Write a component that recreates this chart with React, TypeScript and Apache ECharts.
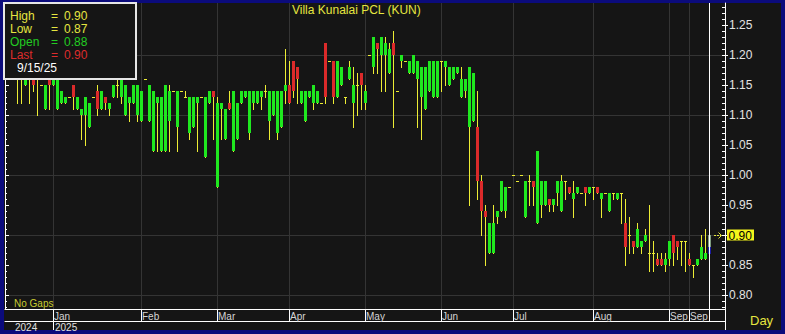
import React, { useEffect, useRef } from 'react';
import * as echarts from 'echarts';

const TITLE = 'Villa Kunalai PCL (KUN)';
const LAST_DATE = '9/15/25';

// OHLC per trading day (Dec 2024 .. 15 Sep 2025)
const opens = [
  1.17, 1.16, 1.15, 1.17, 1.16, 1.17, 1.15, 1.11, 1.16, 1.15,
  1.11, 1.12, 1.12, 1.13, 1.15, 1.11, 1.10, 1.10, 1.08, 1.13,
  1.14, 1.11, 1.13, 1.11, 1.13, 1.15, 1.13, 1.10, 1.12, 1.12,
  1.10, 1.09, 1.16, 1.09, 1.04, 1.12, 1.04, 1.04, 1.09, 1.14,
  1.08, 1.14, 1.13, 1.07, 1.08, 1.12, 1.13, 1.03, 1.12, 1.14,
  0.98, 1.11, 1.06, 1.12, 1.04, 1.06, 1.12, 1.13, 1.07, 1.12,
  1.12, 1.13, 1.14, 1.09, 1.10, 1.07, 1.08, 1.14, 1.15, 1.19,
  1.18, 1.12, 1.09, 1.13, 1.12, 1.12, 1.12, 1.22, 1.19, 1.19,
  1.13, 1.15, 1.13, 1.16, 1.12, 1.15, 1.17, 1.12, 1.20, 1.18,
  1.22, 1.20, 1.20, 1.17, 1.22, 1.14, 1.19, 1.19, 1.17, 1.17,
  1.16, 1.13, 1.11, 1.14, 1.13, 1.13, 1.19, 1.18, 1.15, 1.16,
  1.17, 1.13, 1.14, 1.08, 1.09, 1.08, 0.99, 0.94, 0.87, 0.87,
  0.93, 0.94, 0.94, 0.98, 1.00, 0.99, 1.00, 0.93, 0.99, 0.99,
  0.92, 0.95, 0.95, 0.96, 0.95, 0.97, 0.94, 0.99, 0.98, 0.96,
  0.97, 0.97, 0.98, 0.97, 0.98, 0.98, 0.96, 0.97, 0.94, 0.97,
  0.96, 0.97, 0.92, 0.90, 0.89, 0.88, 0.88, 0.89, 0.87, 0.87,
  0.86, 0.86, 0.85, 0.86, 0.90, 0.89, 0.89, 0.89, 0.86, 0.85,
  0.85, 0.86, 0.86, 0.88,
];
const closes = [
  1.17, 1.17, 1.16, 1.16, 1.15, 1.17, 1.15, 1.15, 1.15, 1.16,
  1.16, 1.14, 1.13, 1.13, 1.13, 1.13, 1.11, 1.13, 1.12, 1.13,
  1.11, 1.14, 1.12, 1.12, 1.15, 1.15, 1.16, 1.15, 1.13, 1.15,
  1.15, 1.14, 1.16, 1.15, 1.14, 1.13, 1.13, 1.15, 1.14, 1.14,
  1.14, 1.14, 1.13, 1.13, 1.13, 1.13, 1.13, 1.13, 1.14, 1.13,
  1.12, 1.12, 1.11, 1.11, 1.14, 1.12, 1.14, 1.14, 1.14, 1.14,
  1.14, 1.14, 1.14, 1.14, 1.14, 1.14, 1.14, 1.15, 1.12, 1.14,
  1.16, 1.14, 1.14, 1.14, 1.15, 1.14, 1.12, 1.13, 1.19, 1.13,
  1.19, 1.18, 1.13, 1.18, 1.15, 1.15, 1.15, 1.14, 1.20, 1.23,
  1.21, 1.23, 1.22, 1.21, 1.20, 1.14, 1.20, 1.19, 1.19, 1.20,
  1.19, 1.18, 1.18, 1.19, 1.19, 1.19, 1.19, 1.19, 1.18, 1.18,
  1.18, 1.16, 1.16, 1.18, 1.17, 0.99, 0.94, 0.93, 0.92, 0.92,
  0.94, 0.99, 0.98, 0.98, 1.00, 0.99, 1.00, 0.99, 0.99, 0.98,
  1.04, 0.99, 0.99, 0.95, 0.96, 0.99, 0.99, 0.99, 0.97, 0.97,
  0.98, 0.97, 0.97, 0.98, 0.98, 0.97, 0.97, 0.97, 0.97, 0.97,
  0.97, 0.97, 0.88, 0.90, 0.88, 0.91, 0.89, 0.90, 0.87, 0.87,
  0.85, 0.85, 0.86, 0.89, 0.87, 0.88, 0.89, 0.89, 0.85, 0.85,
  0.86, 0.88, 0.87, 0.90,
];
const lows = [
  1.12, 1.12, 1.15, 1.12, 1.14, 1.10, 1.15, 1.11, 1.11, 1.15,
  1.11, 1.12, 1.12, 1.13, 1.11, 1.11, 1.06, 1.05, 1.08, 1.13,
  1.10, 1.11, 1.11, 1.10, 1.13, 1.13, 1.12, 1.10, 1.09, 1.12,
  1.09, 1.09, 1.16, 1.09, 1.04, 1.04, 1.04, 1.04, 1.04, 1.14,
  1.04, 1.14, 1.13, 1.06, 1.08, 1.04, 1.13, 1.03, 1.12, 1.06,
  0.98, 1.06, 1.06, 1.11, 1.04, 1.06, 1.12, 1.13, 1.06, 1.11,
  1.12, 1.11, 1.13, 1.06, 1.10, 1.06, 1.08, 1.12, 1.12, 1.13,
  1.12, 1.12, 1.09, 1.13, 1.11, 1.12, 1.12, 1.12, 1.19, 1.12,
  1.13, 1.15, 1.12, 1.16, 1.08, 1.10, 1.11, 1.11, 1.20, 1.17,
  1.17, 1.14, 1.14, 1.17, 1.08, 1.14, 1.18, 1.19, 1.17, 1.17,
  1.08, 1.06, 1.11, 1.14, 1.13, 1.13, 1.14, 1.15, 1.15, 1.16,
  1.17, 1.13, 1.13, 0.95, 1.09, 0.96, 0.90, 0.85, 0.87, 0.87,
  0.92, 0.94, 0.93, 0.98, 1.00, 0.99, 1.00, 0.93, 0.95, 0.95,
  0.92, 0.93, 0.95, 0.94, 0.94, 0.95, 0.94, 0.96, 0.97, 0.93,
  0.97, 0.97, 0.95, 0.97, 0.96, 0.97, 0.93, 0.97, 0.94, 0.96,
  0.96, 0.92, 0.85, 0.87, 0.87, 0.88, 0.87, 0.89, 0.84, 0.84,
  0.85, 0.85, 0.84, 0.85, 0.85, 0.86, 0.85, 0.84, 0.85, 0.83,
  0.85, 0.86, 0.86, 0.87,
];
const highs = [
  1.18, 1.18, 1.17, 1.18, 1.17, 1.18, 1.15, 1.15, 1.17, 1.17,
  1.16, 1.14, 1.13, 1.13, 1.15, 1.13, 1.11, 1.13, 1.12, 1.13,
  1.15, 1.14, 1.13, 1.12, 1.15, 1.16, 1.16, 1.15, 1.13, 1.15,
  1.15, 1.14, 1.16, 1.15, 1.14, 1.13, 1.13, 1.15, 1.15, 1.14,
  1.14, 1.14, 1.14, 1.13, 1.13, 1.13, 1.13, 1.13, 1.14, 1.14,
  1.13, 1.12, 1.11, 1.14, 1.14, 1.12, 1.14, 1.14, 1.14, 1.14,
  1.14, 1.14, 1.15, 1.14, 1.14, 1.14, 1.14, 1.21, 1.19, 1.19,
  1.18, 1.14, 1.14, 1.14, 1.15, 1.14, 1.12, 1.22, 1.19, 1.19,
  1.19, 1.18, 1.13, 1.19, 1.18, 1.17, 1.17, 1.15, 1.20, 1.23,
  1.22, 1.23, 1.23, 1.22, 1.24, 1.14, 1.20, 1.19, 1.19, 1.20,
  1.19, 1.18, 1.18, 1.19, 1.19, 1.19, 1.19, 1.19, 1.18, 1.18,
  1.18, 1.18, 1.16, 1.18, 1.17, 1.14, 1.00, 0.95, 0.92, 0.95,
  0.94, 0.99, 0.98, 0.98, 1.00, 0.99, 1.00, 0.99, 1.00, 0.99,
  1.04, 0.99, 0.99, 0.96, 0.96, 0.99, 1.00, 0.99, 0.98, 0.99,
  0.98, 0.97, 0.98, 0.98, 0.98, 0.98, 0.97, 0.97, 0.97, 0.97,
  0.97, 0.97, 0.96, 0.93, 0.89, 0.92, 0.89, 0.91, 0.95, 0.89,
  0.87, 0.87, 0.87, 0.89, 0.90, 0.89, 0.89, 0.89, 0.87, 0.85,
  0.86, 0.90, 0.91, 0.90,
];

// x axis labels (bar index where each label starts)
const monthLabels = ['Jan', 'Feb', 'Mar', 'Apr', 'May', 'Jun', 'Jul', 'Aug', 'Sep', 'Sep'];
const monthStartBars = [9, 31, 50, 68, 87, 106, 124, 144, 163, 168];
const yearLabels = ['2024', '2025'];
const yearLabelBars = [-1, 9];
const yearStartBars = [9];

// y axis
const yTickLabels = [0.8, 0.85, 0.9, 0.95, 1.0, 1.05, 1.1, 1.15, 1.2, 1.25];
const yGridValues = [0.8, 0.9, 1.0, 1.1, 1.2];
const yMinorTicks = [
  0.78, 0.79, 0.8, 0.81, 0.82, 0.83, 0.84, 0.85, 0.86, 0.87, 0.88, 0.89,
  0.9, 0.91, 0.92, 0.93, 0.94, 0.95, 0.96, 0.97, 0.98, 0.99, 1.0, 1.01,
  1.02, 1.03, 1.04, 1.05, 1.06, 1.07, 1.08, 1.09, 1.1, 1.11, 1.12, 1.13,
  1.14, 1.15, 1.16, 1.17, 1.18, 1.19, 1.2, 1.21, 1.22, 1.23, 1.24, 1.25,
  1.26, 1.27, 1.28,
];
const Y_MIN = 0.7767;
const Y_MAX = 1.2867;

const PAD_LEFT = 3;
const PAD_RIGHT = 4;

const FONT = '"Liberation Sans", Arial, sans-serif';
const BLUE = '#0b0b7c';
const DARK = '#151515';
const GRID = '#343434';
const WICK = '#ecec34';
const UP = '#1fe81f';
const DOWN = '#dc2a2a';
const YELLOW = '#e6e640';

function buildOption() {
  const n = opens.length;
  const total = n + PAD_LEFT + PAD_RIGHT;
  const categories = Array.from({ length: total }, (_, i) => String(i));
  const monthMap = new Map<number, string>();
  monthStartBars.forEach((b, i) => monthMap.set(b + PAD_LEFT, monthLabels[i]));
  const monthTicks = new Set<number>([...monthStartBars.map((b) => b + PAD_LEFT), total - 1]);
  const yearMap = new Map<number, string>();
  yearLabelBars.forEach((b, i) => yearMap.set(b + PAD_LEFT, yearLabels[i]));
  const yearTicks = new Set<number>([...yearStartBars.map((b) => b + PAD_LEFT), total - 1]);

  const data = opens.map((o, k) => [k + PAD_LEFT, o, closes[k], lows[k], highs[k]]);
  const lastIndex = n - 1;

  const baseY = { type: 'value', min: Y_MIN, max: Y_MAX, scale: true };

  const legendRows = [
    { name: 'High', value: highs[lastIndex], color: YELLOW },
    { name: 'Low', value: lows[lastIndex], color: YELLOW },
    { name: 'Open', value: opens[lastIndex], color: '#22cc22' },
    { name: 'Last', value: closes[lastIndex], color: '#dd2c2c' },
  ];
  const legendFont = `12px ${FONT}`;
  const textEl = (id: string, text: string, x: number, y: number, fill: string, font: string, z = 101) => ({
    type: 'text',
    id,
    x,
    y,
    z,
    silent: true,
    style: { text, fill, font, align: 'left', verticalAlign: 'middle', textAlign: 'left', textVerticalAlign: 'middle' },
  });
  const legendEls: any[] = [];
  legendRows.forEach((r, i) => {
    const y = 15.5 + i * 13.1;
    legendEls.push(textEl('lg-n' + i, r.name, 10, y, r.color, legendFont));
    legendEls.push(textEl('lg-e' + i, '=', 51, y, r.color, legendFont));
    legendEls.push(textEl('lg-v' + i, r.value.toFixed(2), 64, y, r.color, legendFont));
  });
  legendEls.push(textEl('lg-d', LAST_DATE, 17, 68, '#ffffff', legendFont));

  return {
    animation: false,
    backgroundColor: BLUE,
    textStyle: { fontFamily: FONT },
    grid: { left: 5, right: 60, top: 3, bottom: 25, containLabel: false, outerBoundsMode: 'none' },
    xAxis: [
      {
        type: 'category',
        data: categories,
        boundaryGap: false,
        position: 'bottom',
        axisLine: { show: true, lineStyle: { color: '#ffffff', width: 1 } },
        axisTick: { show: true, interval: (i: number) => monthTicks.has(i), length: 12, lineStyle: { color: '#ffffff' } },
        axisLabel: {
          show: true,
          interval: (i: number) => monthMap.has(i),
          formatter: (_v: string, i: number) => monthMap.get(i) ?? '',
          align: 'left',
          padding: [0, 0, 0, 1],
          margin: 2,
          color: '#d4d4d4',
          fontSize: 10,
          hideOverlap: false,
        },
        splitLine: { show: true, interval: (i: number) => monthMap.has(i), lineStyle: { color: GRID, width: 1 } },
      },
      {
        type: 'category',
        data: categories,
        boundaryGap: false,
        position: 'bottom',
        offset: 12,
        axisLine: { show: true, lineStyle: { color: '#ffffff', width: 1 } },
        axisTick: { show: true, interval: (i: number) => yearTicks.has(i), length: 9, lineStyle: { color: '#ffffff' } },
        axisLabel: {
          show: true,
          interval: (i: number) => yearMap.has(i),
          formatter: (_v: string, i: number) => yearMap.get(i) ?? '',
          align: 'left',
          padding: [0, 0, 0, 2],
          margin: 1,
          color: '#e0e0e0',
          fontSize: 10,
          hideOverlap: false,
        },
        splitLine: { show: false },
      },
    ],
    yAxis: [
      {
        ...baseY,
        position: 'right',
        axisLine: { show: true, lineStyle: { color: '#ffffff', width: 1 } },
        axisTick: { show: true, customValues: yTickLabels, length: 3, lineStyle: { color: '#ffffff' } },
        axisLabel: {
          show: true,
          customValues: yTickLabels,
          formatter: (v: number) => v.toFixed(2),
          color: '#e4e4e4',
          fontSize: 12,
          margin: 4,
          hideOverlap: false,
        },
        splitLine: { show: false },
      },
      {
        ...baseY,
        position: 'right',
        axisLine: { show: false },
        axisTick: { show: true, inside: true, customValues: yMinorTicks, length: 3, lineStyle: { color: '#ffffff' } },
        axisLabel: { show: false },
        splitLine: { show: false },
      },
      {
        ...baseY,
        position: 'left',
        axisLine: { show: true, lineStyle: { color: '#ffffff', width: 1 } },
        axisTick: { show: true, inside: true, customValues: yMinorTicks, length: 2, lineStyle: { color: '#ffffff' } },
        axisLabel: { show: false },
        splitLine: { show: false },
      },
      {
        ...baseY,
        position: 'left',
        axisLine: { show: false },
        axisTick: { show: true, inside: true, customValues: yTickLabels, length: 4, lineStyle: { color: '#ffffff' } },
        axisLabel: { show: false },
        splitLine: { show: false },
      },
      {
        ...baseY,
        position: 'left',
        axisLine: { show: false },
        axisTick: { show: false, customValues: yGridValues },
        axisLabel: { show: false },
        splitLine: { show: true, lineStyle: { color: GRID, width: 1 } },
      },
    ],
    series: [
      {
        type: 'custom',
        xAxisIndex: 0,
        yAxisIndex: 0,
        silent: true,
        encode: { x: 0, y: [1, 2, 3, 4] },
        data,
        renderItem: (params: any, api: any) => {
          const xi = api.value(0);
          const o = api.value(1);
          const c = api.value(2);
          const l = api.value(3);
          const h = api.value(4);
          const pO = api.coord([xi, o]);
          const yC = api.coord([xi, c])[1];
          const yL = Math.round(api.coord([xi, l])[1]);
          const yH = Math.round(api.coord([xi, h])[1]);
          const px = Math.round(pO[0]);
          const top = Math.round(Math.min(pO[1], yC));
          const bot = Math.round(Math.max(pO[1], yC));
          const isLast = params.dataIndex === lastIndex;
          const children: any[] = [];
          if (yL - yH >= 1) {
            children.push({ type: 'rect', shape: { x: px, y: yH, width: 1, height: yL - yH + 1 }, style: { fill: WICK, stroke: null, lineWidth: 0 } });
          }
          if (bot - top < 1) {
            children.push({ type: 'rect', shape: { x: px - 1, y: top, width: 3, height: 1 }, style: { fill: WICK, stroke: null, lineWidth: 0 } });
          } else {
            const fill = isLast ? '#7f9c7f' : c > o ? UP : DOWN;
            children.push({ type: 'rect', shape: { x: px - 1, y: top, width: 3, height: bot - top }, style: { fill, stroke: null, lineWidth: 0 } });
          }
          if (isLast && yL > bot) {
            children.push({ type: 'rect', shape: { x: px - 1, y: bot, width: 3, height: yL - bot + 1 }, style: { fill: '#1c1ca4', stroke: null, lineWidth: 0 } });
          }
          return { type: 'group', children };
        },
      },
    ],
    graphic: {
      elements: [
        { type: 'rect', id: 'bg', z: -10, silent: true, shape: { x: 4, y: 3, width: 777, height: 327 }, style: { fill: DARK } },
        textEl('title', TITLE, 292, 9.5, YELLOW, `12px ${FONT}`, 50),
        textEl('nogaps', 'No Gaps', 14, 303, '#c8cc30', `10px ${FONT}`, 50),
        textEl('day', 'Day', 750, 320, YELLOW, `13px ${FONT}`, 50),
        {
          type: 'rect',
          id: 'lg-box',
          z: 100,
          silent: true,
          shape: { x: 4, y: 3, width: 132, height: 76 },
          style: { fill: DARK, stroke: '#e6e6e6', lineWidth: 2 },
        },
        ...legendEls,
      ],
    },
  };
}

export default function App() {
  const ref = useRef<HTMLDivElement>(null);
  useEffect(() => {
    const el = ref.current;
    if (!el) return;
    const chart = echarts.init(el, undefined, { renderer: 'svg' });
    chart.setOption(buildOption() as any);
    const lastK = opens.length - 1;
    const yLast = chart.convertToPixel({ yAxisIndex: 0 } as any, closes[lastK]) as unknown as number;
    const xLast = chart.convertToPixel({ xAxisIndex: 0 } as any, lastK + PAD_LEFT) as unknown as number;
    const yTop = chart.convertToPixel({ yAxisIndex: 0 } as any, Y_MAX) as unknown as number;
    const yBottom = chart.convertToPixel({ yAxisIndex: 0 } as any, Y_MIN) as unknown as number;
    const cx = Math.round(xLast) + 0.5;
    const cy = Math.round(yLast);
    chart.setOption({
      graphic: {
        elements: [
          {
            type: 'line',
            id: 'cursor',
            z: 60,
            silent: true,
            shape: { x1: cx, y1: yTop, x2: cx, y2: yBottom + 12 },
            style: { stroke: '#ffffff', lineWidth: 1 },
          },
          {
            type: 'rect',
            id: 'tag',
            z: 60,
            silent: true,
            shape: { x: 727, y: cy - 5.5, width: 27, height: 11 },
            style: { fill: '#f4f41c' },
          },
          {
            type: 'text',
            id: 'tag-text',
            z: 61,
            silent: true,
            x: 728.5,
            y: cy + 0.5,
            style: {
              text: closes[lastK].toFixed(2),
              fill: '#000000',
              font: `12px ${FONT}`,
              align: 'left',
              verticalAlign: 'middle',
              textAlign: 'left',
              textVerticalAlign: 'middle',
            },
          },
          {
            type: 'line',
            id: 'arrow-l',
            z: 60,
            silent: true,
            shape: { x1: 714, y1: cy + 0.5, x2: 721, y2: cy + 0.5 },
            style: { stroke: YELLOW, lineWidth: 1, lineDash: [2, 1] },
          },
          {
            type: 'polyline',
            id: 'arrow-h',
            z: 60,
            silent: true,
            shape: { points: [[718.5, cy - 2.5], [721.5, cy + 0.5], [718.5, cy + 3.5]] },
            style: { stroke: YELLOW, lineWidth: 1, fill: 'none' },
          },
        ],
      },
    } as any);
    return () => chart.dispose();
  }, []);
  return <div ref={ref} style={{ position: 'fixed', left: 0, top: 0, width: 785, height: 334 }} />;
}
